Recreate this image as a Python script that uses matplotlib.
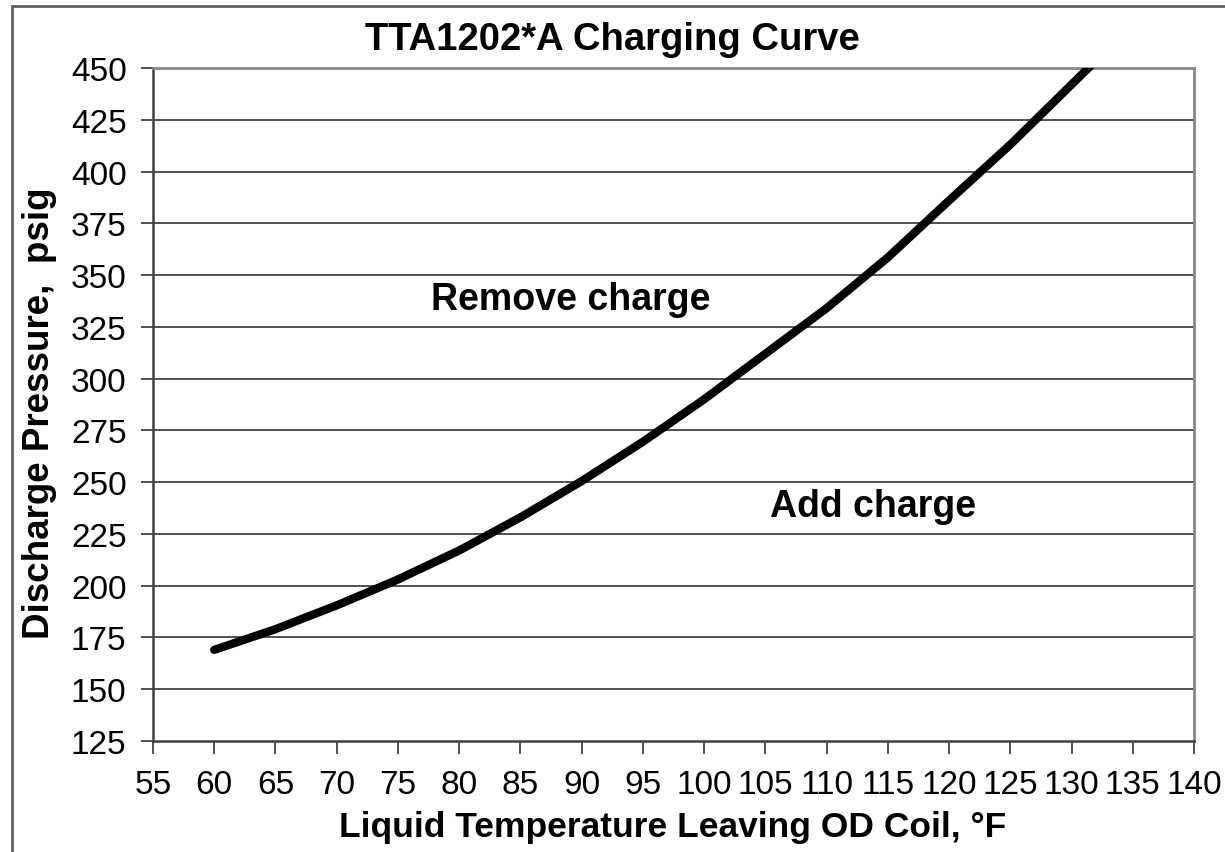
import matplotlib
matplotlib.use('Agg')
import matplotlib.pyplot as plt
from matplotlib.patches import Rectangle

plt.rcParams['font.family'] = ['Liberation Sans', 'DejaVu Sans']

temps = [60, 65, 70, 75, 80, 85, 90, 95, 100, 105, 110, 115, 120, 125, 130, 135]
pressures = [169, 179, 190.5, 203, 217, 233, 250.5, 269.5, 290, 312, 334, 358.5, 386, 413, 442, 471]

x_ticks = list(range(55, 141, 5))
y_ticks = list(range(125, 451, 25))

fig = plt.figure(figsize=(12.25, 8.53), dpi=100)
ax = fig.add_axes([153 / 1225, 1 - 742 / 853, (1194 - 153) / 1225, (742 - 69) / 853])

# outer chart frame
fig.patches.append(Rectangle((12 / 1225, -0.05), 1.1, 1 - 7 / 853 + 0.05,
                             transform=fig.transFigure, fill=False,
                             edgecolor='#606060', linewidth=2))

for y in y_ticks[1:-1]:
    ax.axhline(y, color='#222222', linewidth=1.1, zorder=1)

ax.plot(temps, pressures, color='black', linewidth=6, solid_capstyle='round', zorder=3)

ax.set_xlim(55, 140)
ax.set_ylim(125, 450)
ax.set_xticks(x_ticks)
ax.set_yticks(y_ticks)
ax.tick_params(direction='out', length=9, width=1.2, labelsize=24, color='#333333')
ax.tick_params(axis='x', pad=11)
ax.tick_params(axis='y', pad=10)

for side in ['left', 'bottom']:
    ax.spines[side].set_color('#404040')
    ax.spines[side].set_linewidth(1.8)
for side in ['top', 'right']:
    ax.spines[side].set_color('#888888')
    ax.spines[side].set_linewidth(2)

ax.text(89.1, 338.5, 'Remove charge', fontsize=27, fontweight='bold', ha='center', va='center')
ax.text(113.8, 238.5, 'Add charge', fontsize=27, fontweight='bold', ha='center', va='center')

fig.text(0.5, 1 - 40 / 853, 'TTA1202*A Charging Curve', fontsize=27.5, fontweight='bold',
         ha='center', va='center')
fig.text(673 / 1225, 1 - 828 / 853, 'Liquid Temperature Leaving OD Coil, °F', fontsize=25.5,
         fontweight='bold', ha='center', va='center')
fig.text(40 / 1225, 1 - 413 / 853, 'Discharge Pressure,  psig', fontsize=26.5,
         fontweight='bold', ha='center', va='center', rotation=90)

fig.savefig('out.png', dpi=100)
